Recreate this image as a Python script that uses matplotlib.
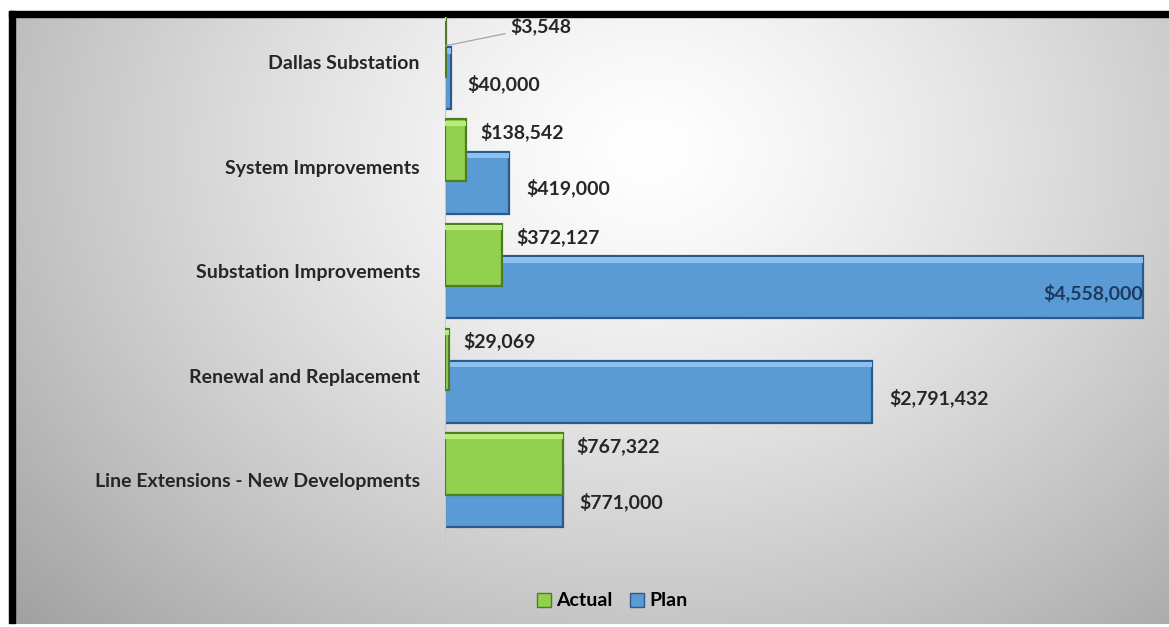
import numpy as np
import matplotlib
matplotlib.use('Agg')
import matplotlib.pyplot as plt
from matplotlib.patches import Rectangle, Patch

categories = ['Line Extensions - New Developments', 'Renewal and Replacement',
              'Substation Improvements', 'System Improvements', 'Dallas Substation']
actual = [767322, 29069, 372127, 138542, 3548]
plan = [771000, 2791432, 4558000, 419000, 40000]

plt.rcParams['font.family'] = ['Lato', 'DejaVu Sans']

W, H = 1169, 627
fig = plt.figure(figsize=(W / 100, H / 100), dpi=100)
fig.patch.set_facecolor('white')

# grey radial backdrop with black frame on top and left
bg = fig.add_axes([0, 0, 1, 1], zorder=-10)
xx, yy = np.meshgrid(np.arange(W), np.arange(H))
r = np.sqrt(((xx - 650) / 700.0) ** 2 + ((yy - 150) / 560.0) ** 2)
shade = np.clip(1.0 - 0.28 * r ** 1.3, 0, 1)
shade[(xx < 9) | (yy < 11) | (yy > 623)] = 1.0
bg.imshow(np.dstack([shade] * 3), extent=[0, W, H, 0], aspect='auto')
bg.add_patch(Rectangle((9, 11), W - 9, 6, color='black'))
bg.add_patch(Rectangle((9, 11), 6, 612, color='black'))
bg.set_xlim(0, W)
bg.set_ylim(H, 0)
bg.axis('off')

ax = fig.add_axes([445 / W, 82 / H, 701 / W, 528 / H])
ax.patch.set_alpha(0)

y = np.arange(len(categories))
h = 0.59
d = 0.155
green, green_edge, green_hi = '#92d050', '#4f7d22', '#b8ec7a'
blue, blue_edge, blue_hi = '#5b9bd5', '#2a5a8c', '#8cc0f0'

ax.barh(y - d, plan, height=h, color=blue, edgecolor=blue_edge, linewidth=1.6, zorder=2)
ax.barh(y - d + h / 2 - 0.035, plan, height=0.05, color=blue_hi, linewidth=0, zorder=2.5)
ax.barh(y + d, actual, height=h, color=green, edgecolor=green_edge, linewidth=1.6, zorder=3)
ax.barh(y + d + h / 2 - 0.035, actual, height=0.05, color=green_hi, linewidth=0, zorder=3.5)

ax.set_xlim(0, 4558000 * 701 / 698)
ax.set_ylim(-0.62, 4.43)
ax.set_yticks(y)
ax.set_yticklabels(categories, fontsize=14, fontweight='bold', color='#262626')
ax.tick_params(axis='y', length=0, pad=18)
ax.set_xticks([])
for s in ['top', 'right', 'bottom']:
    ax.spines[s].set_visible(False)
ax.spines['left'].set_color('#c8c8c8')

lab = dict(fontsize=14, fontweight='bold', color='#262626', va='center')
for i in range(len(categories)):
    # plan labels
    if plan[i] == max(plan):
        ax.annotate(f'${plan[i]:,}', (plan[i], i - d), xytext=(0, -4),
                    textcoords='offset points', ha='right', zorder=5,
                    **{**lab, 'color': '#1f3a60'})
    else:
        ax.annotate(f'${plan[i]:,}', (plan[i], i - d), xytext=(12, -4),
                    textcoords='offset points', ha='left', zorder=5, **lab)
    # actual labels
    if i == len(categories) - 1:
        ax.annotate(f'${actual[i]:,}', (actual[i], i + d), xytext=(47, 14),
                    textcoords='offset points', ha='left', zorder=5,
                    arrowprops=dict(arrowstyle='-', color='#a6a6a6', lw=0.9,
                                    shrinkA=2, shrinkB=0), **lab)
    else:
        ax.annotate(f'${actual[i]:,}', (actual[i], i + d), xytext=(10, 13),
                    textcoords='offset points', ha='left', zorder=5, **lab)

handles = [Patch(facecolor=green, edgecolor=green_edge), Patch(facecolor=blue, edgecolor=blue_edge)]
fig.legend(handles, ['Actual', 'Plan'], loc='center', bbox_to_anchor=(0.524, 1 - 601 / H),
           ncol=2, frameon=False, handlelength=0.7, handleheight=0.7, handletextpad=0.3,
           columnspacing=0.9, prop={'weight': 'bold', 'size': 14})

fig.savefig('out.png', dpi=100)
